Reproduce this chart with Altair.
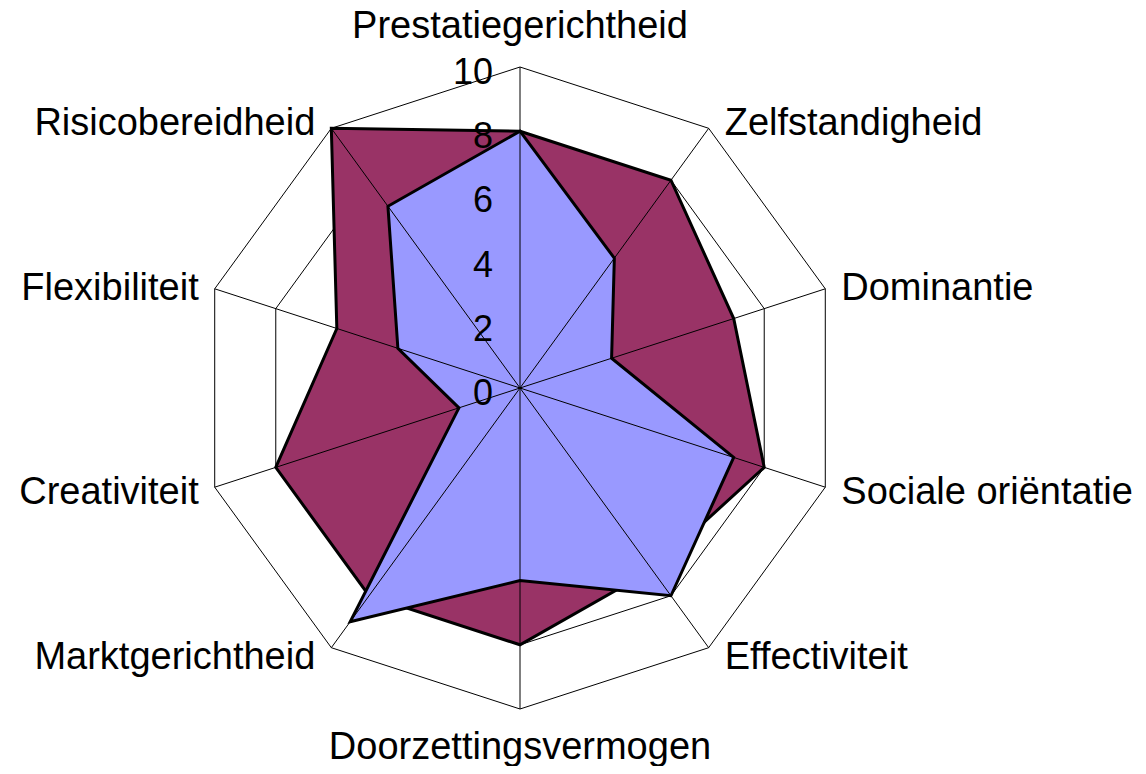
import math
import altair as alt
import pandas as pd

# ---------------- data ----------------
categories = [
    "Prestatiegerichtheid", "Zelfstandigheid", "Dominantie", "Sociale oriëntatie",
    "Effectiviteit", "Doorzettingsvermogen", "Marktgerichtheid", "Creativiteit",
    "Flexibiliteit", "Risicobereidheid",
]
series_outer = [8, 8, 7, 8, 7, 8, 8, 8, 6, 10]   # maroon series
series_inner = [8, 5, 3, 7, 8, 6, 9, 2, 4, 7]    # blue series
tick_values = [0, 2, 4, 6, 8, 10]
max_value = 10

N = len(categories)

# ---------------- tables ----------------
cat_df = pd.DataFrame({"idx": list(range(N)), "cat": categories})
outer_df = pd.DataFrame({"idx": list(range(N)), "value": series_outer})
inner_df = pd.DataFrame({"idx": list(range(N)), "value": series_inner})
grid_df = pd.DataFrame(
    [{"level": lv, "idx": i} for lv in tick_values if lv > 0 for i in range(N)]
)
tick_df = pd.DataFrame({"tick": tick_values, "label": [str(t) for t in tick_values]})

ANG = f"(2*PI*datum.idx/{N})"

# ---------------- scales (equal units on both axes) ----------------
W, H = 1126, 758
unit = 32.1
cx, cy = 512, 380
xs = alt.Scale(domain=[-cx / unit, (W - cx) / unit], nice=False, zero=False)
ys = alt.Scale(domain=[-(H - cy) / unit, cy / unit], nice=False, zero=False)

FONT = "Liberation Sans"


def xy():
    return dict(
        x=alt.X("px:Q", scale=xs, axis=None),
        y=alt.Y("py:Q", scale=ys, axis=None),
    )


# decagon gridlines
grid = (
    alt.Chart(grid_df)
    .transform_calculate(px=f"datum.level*sin({ANG})", py=f"datum.level*cos({ANG})")
    .mark_line(interpolate="linear-closed", stroke="black", strokeWidth=1)
    .encode(**xy(), detail="level:N", order="idx:Q")
)


def polygon(df, color):
    return (
        alt.Chart(df)
        .transform_calculate(px=f"datum.value*sin({ANG})", py=f"datum.value*cos({ANG})")
        .mark_line(interpolate="linear-closed", fill=color, stroke="black",
                   strokeWidth=3, strokeJoin="miter")
        .encode(**xy(), order="idx:Q")
    )


outer = polygon(outer_df, "#993366")
inner = polygon(inner_df, "#9999FF")

# spokes drawn on top of the series
spokes = (
    alt.Chart(cat_df)
    .transform_calculate(
        x0="0", y0="0",
        x1=f"{max_value}*sin({ANG})", y1=f"{max_value}*cos({ANG})",
    )
    .mark_rule(stroke="black", strokeWidth=1)
    .encode(
        x=alt.X("x0:Q", scale=xs, axis=None),
        y=alt.Y("y0:Q", scale=ys, axis=None),
        x2="x1:Q",
        y2="y1:Q",
    )
)

# value tick labels along the top spoke
ticks = (
    alt.Chart(tick_df)
    .transform_calculate(px="0")
    .mark_text(align="right", baseline="middle", dx=-27, dy=6,
               font=FONT, fontSize=36, color="black")
    .encode(
        x=alt.X("px:Q", scale=xs, axis=None),
        y=alt.Y("tick:Q", scale=ys, axis=None),
        text="label:N",
    )
)

# category labels
base_lab = alt.Chart(cat_df).transform_calculate(
    sx=f"sin({ANG})", cxx=f"cos({ANG})"
).transform_calculate(
    px=f"{max_value}*datum.sx",
    py=f"{max_value}*datum.cxx + 0.28*datum.cxx - 0.1",
    pyv=f"{max_value}*datum.cxx",
)

lab_top = base_lab.transform_filter("datum.idx == 0").mark_text(
    align="center", baseline="alphabetic", dy=-29, font=FONT, fontSize=38, color="black"
).encode(x=alt.X("px:Q", scale=xs, axis=None), y=alt.Y("pyv:Q", scale=ys, axis=None), text="cat:N")

lab_bot = base_lab.transform_filter(f"datum.idx == {N // 2}").mark_text(
    align="center", baseline="top", dy=20, font=FONT, fontSize=38, color="black"
).encode(x=alt.X("px:Q", scale=xs, axis=None), y=alt.Y("pyv:Q", scale=ys, axis=None), text="cat:N")

lab_right = base_lab.transform_filter(f"datum.idx > 0 && datum.idx < {N // 2}").mark_text(
    align="left", baseline="middle", dx=16, font=FONT, fontSize=38, color="black"
).encode(x=alt.X("px:Q", scale=xs, axis=None), y=alt.Y("py:Q", scale=ys, axis=None), text="cat:N")

lab_left = base_lab.transform_filter(f"datum.idx > {N // 2}").mark_text(
    align="right", baseline="middle", dx=-16, font=FONT, fontSize=38, color="black"
).encode(x=alt.X("px:Q", scale=xs, axis=None), y=alt.Y("py:Q", scale=ys, axis=None), text="cat:N")

chart = (
    alt.layer(grid, outer, inner, spokes, ticks, lab_top, lab_bot, lab_right, lab_left)
    .properties(width=W, height=H, padding=0,
                autosize=alt.AutoSizeParams(type="none"), background="white")
    .configure_view(stroke=None)
)

chart.save("out.html", embed_options={"renderer": "svg", "actions": False})
